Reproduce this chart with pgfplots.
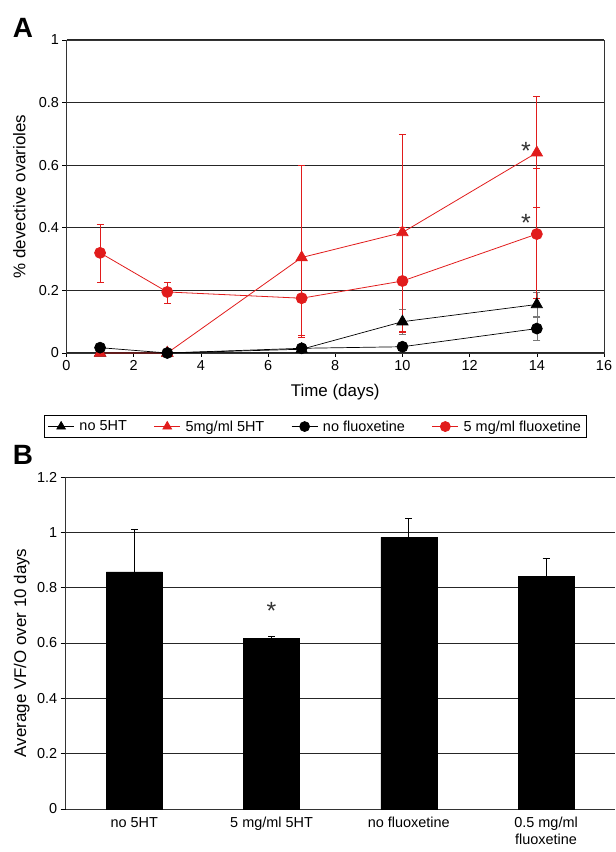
\documentclass[border=0pt]{standalone}
\usepackage{fontspec}
\setmainfont{Liberation Sans}
\usepackage{pgfplots}
\pgfplotsset{compat=1.18}
\definecolor{myred}{RGB}{225,28,28}
\definecolor{errgray}{RGB}{120,120,120}
\begin{document}
\begin{tikzpicture}
\useasboundingbox (0,0) rectangle (616bp,852bp);
\node[font=\fontsize{28}{28}\selectfont\bfseries] at (23bp,824bp) {A};
\node[font=\fontsize{28}{28}\selectfont\bfseries] at (23bp,397bp) {B};
\begin{axis}[
  at={(66.5bp,499bp)}, anchor=south west, scale only axis,
  width=537.5bp, height=313bp,
  xmin=0, xmax=16, ymin=0, ymax=1,
  xtick={0,2,4,6,8,10,12,14,16},
  ytick={0,0.2,0.4,0.6,0.8,1},
  tick align=outside, tick pos=left,
  major tick length=4bp,
  every tick/.style={black, line width=0.6bp},
  ymajorgrids, major grid style={black!85, line width=1.1bp},
  axis line style={black!80, line width=0.9bp},
  ticklabel style={font=\fontsize{14.5}{16}\selectfont},
  /pgf/number format/assume math mode=true,
  xlabel={Time (days)}, ylabel={\% devective ovarioles},
  every axis x label/.style={at={(axis description cs:0.5,-0.125)}, anchor=center, font=\fontsize{17}{19}\selectfont},
  every axis y label/.style={at={(axis description cs:-0.088,0.5)}, anchor=center, rotate=90, font=\fontsize{17}{19}\selectfont},
  clip=false,
  legend columns=4,
  legend image code/.code={\draw[mark repeat=2, mark phase=2, #1, mark size=5bp] plot coordinates {(0bp,0bp) (13bp,0bp) (26bp,0bp)};},
  legend style={at={(axis description cs:0.463,-0.235)}, anchor=center,
    draw=black, line width=0.8bp, font=\fontsize{14.5}{15}\selectfont,
    inner sep=3bp, row sep=0bp,
    /tikz/every odd column/.append style={column sep=3bp},
    /tikz/every even column/.append style={column sep=25bp}},
  legend cell align=left,
  error bars/y dir=both, error bars/y explicit,
]
\addplot[black, line width=0.7bp, mark=triangle*, mark size=6.5bp,
  mark options={solid},
  error bars/error bar style={errgray, line width=0.6bp},
  error bars/error mark options={rotate=90, errgray, mark size=3.5bp, line width=0.6bp}]
  coordinates {(1,0) (3,0) (7,0.012) +- (0,0.005) (10,0.10) +- (0,0.04) (14,0.155) +- (0,0.04)};
\addlegendentry{no 5HT}
\addplot[myred, line width=0.8bp, mark=triangle*, mark size=6.5bp,
  mark options={solid},
  error bars/error bar style={myred, line width=0.7bp},
  error bars/error mark options={rotate=90, myred, mark size=3.5bp, line width=0.7bp}]
  coordinates {(1,0) (3,0) (7,0.305) += (0,0.295) -= (0,0.255) (10,0.385) += (0,0.315) -= (0,0.315) (14,0.64) += (0,0.18) -= (0,0.175)};
\addlegendentry{5mg/ml 5HT}
\addplot[black, line width=0.7bp, mark=*, mark size=5.5bp,
  mark options={solid},
  error bars/error bar style={errgray, line width=0.6bp},
  error bars/error mark options={rotate=90, errgray, mark size=3.5bp, line width=0.6bp}]
  coordinates {(1,0.017) (3,0) (7,0.015) (10,0.02) +- (0,0.012) (14,0.078) +- (0,0.038)};
\addlegendentry{no fluoxetine}
\addplot[myred, line width=0.8bp, mark=*, mark size=5.5bp,
  mark options={solid},
  error bars/error bar style={myred, line width=0.7bp},
  error bars/error mark options={rotate=90, myred, mark size=3.5bp, line width=0.7bp}]
  coordinates {(1,0.32) += (0,0.09) -= (0,0.095) (3,0.195) += (0,0.03) -= (0,0.035) (7,0.175) += (0,0.125) -= (0,0.12) (10,0.23) += (0,0.17) -= (0,0.165) (14,0.38) += (0,0.21) -= (0,0.205)};
\addlegendentry{5 mg/ml fluoxetine}
\node[font=\fontsize{25}{25}\selectfont, black!80] at (axis cs:13.68,0.645) {*};
\node[font=\fontsize{25}{25}\selectfont, black!80] at (axis cs:13.68,0.415) {*};
\end{axis}

\begin{axis}[
  at={(65.7bp,43bp)}, anchor=south west, scale only axis,
  width=549bp, height=332bp,
  xmin=-0.5, xmax=3.5, ymin=0, ymax=1.2,
  xtick={0,1,2,3},
  xticklabels={no 5HT, 5 mg/ml 5HT, no fluoxetine, {0.5 mg/ml\\fluoxetine}},
  xticklabel style={align=center, font=\fontsize{14.5}{17}\selectfont},
  x tick style={draw=none},
  extra x ticks={0.5,1.5,2.5,3.5},
  extra x tick labels={},
  extra x tick style={major tick length=5bp, tick style={black, line width=0.6bp}, tick align=outside},
  ytick={0,0.2,0.4,0.6,0.8,1,1.2},
  yticklabel style={font=\fontsize{14.5}{16}\selectfont},
  /pgf/number format/assume math mode=true,
  axis x line=bottom, axis y line=left,
  axis line style={black!80, line width=0.9bp, -},
  y tick style={black, line width=0.6bp},
  tick align=outside, major tick length=5bp,
  ymajorgrids, major grid style={black!85, line width=0.9bp},
  ylabel={Average VF/O over 10 days},
  every axis y label/.style={at={(axis description cs:-0.08,0.47)}, anchor=center, rotate=90, font=\fontsize{17}{19}\selectfont},
  clip=false,
]
\addplot[ybar, bar width=56bp, fill=black, draw=black,
  error bars/.cd, y dir=plus, y explicit,
  error bar style={black, line width=0.7bp},
  error mark options={rotate=90, black, mark size=3.5bp, line width=0.7bp}]
  coordinates {(0,0.857) +- (0,0.153) (1,0.616) +- (0,0.007) (2,0.982) +- (0,0.068) (3,0.841) +- (0,0.064)};
\node[font=\fontsize{25}{25}\selectfont, black!80] at (axis cs:1,0.715) {*};
\end{axis}
\end{tikzpicture}
\end{document}
